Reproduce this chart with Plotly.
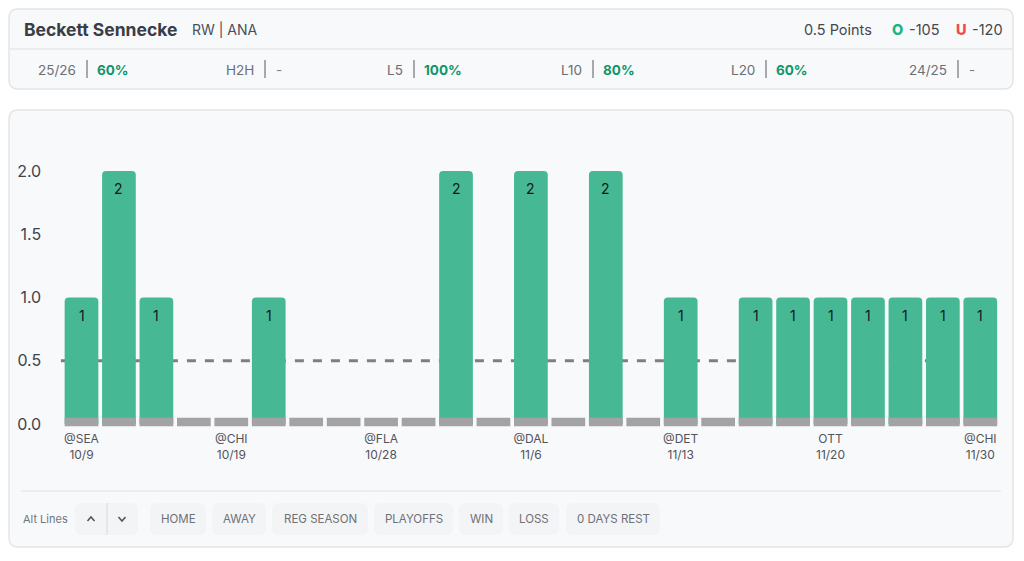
import plotly.graph_objects as go

W, H = 1024, 561

# chart values
points = [1, 2, 1, 0, 0, 1, 0, 0, 0, 0, 2, 0, 2, 0, 2, 0, 1, 0, 1, 1, 1, 1, 1, 1, 1]
game_index = list(range(len(points)))
floor_top = [0.05] * len(points)
prop_line = 0.5
y_ticks = [0, 0.5, 1, 1.5, 2]
y_tick_labels = ["0.0", "0.5", "1.0", "1.5", "2.0"]
x_ticks = [0, 4, 8, 12, 16, 20, 24]
x_tick_labels = [
    "@SEA<br>10/9",
    "@CHI<br>10/19",
    "@FLA<br>10/28",
    "@DAL<br>11/6",
    "@DET<br>11/13",
    "OTT<br>11/20",
    "@CHI<br>11/30",
]

# header stats: label, value
stats = [
    ("25/26", "60%", 78, 87),
    ("H2H", "-", 256, 265),
    ("L5", "100%", 405, 414),
    ("L10", "80%", 584, 593),
    ("L20", "60%", 757, 766),
    ("24/25", "-", 949, 958),
]
filters = [
    ("HOME", 150, 206),
    ("AWAY", 212, 266),
    ("REG SEASON", 272, 368),
    ("PLAYOFFS", 374, 453),
    ("WIN", 459, 503),
    ("LOSS", 509, 559),
    ("0 DAYS REST", 566, 660),
]

GREEN = "#46b994"
GRAY = "#a3a3a3"
FONT = "Inter"


def px(x):
    return x / W


def py(y):
    return 1 - y / H


def round_rect(x0, y0, x1, y1, r, fill, line=None, width=0):
    p = (
        f"M {px(x0 + r)} {py(y0)} L {px(x1 - r)} {py(y0)} "
        f"Q {px(x1)} {py(y0)} {px(x1)} {py(y0 + r)} L {px(x1)} {py(y1 - r)} "
        f"Q {px(x1)} {py(y1)} {px(x1 - r)} {py(y1)} L {px(x0 + r)} {py(y1)} "
        f"Q {px(x0)} {py(y1)} {px(x0)} {py(y1 - r)} L {px(x0)} {py(y0 + r)} "
        f"Q {px(x0)} {py(y0)} {px(x0 + r)} {py(y0)} Z"
    )
    return dict(
        type="path", path=p, xref="paper", yref="paper", layer="below",
        fillcolor=fill, line=dict(color=line or fill, width=width),
    )


def hline(x0, x1, y, color, width=1):
    return dict(
        type="line", xref="paper", yref="paper", layer="below",
        x0=px(x0), x1=px(x1), y0=py(y), y1=py(y),
        line=dict(color=color, width=width),
    )


def vline(x, y0, y1, color, width=1):
    return dict(
        type="line", xref="paper", yref="paper", layer="below",
        x0=px(x), x1=px(x), y0=py(y0), y1=py(y1),
        line=dict(color=color, width=width),
    )


def chevron(cx, cy, up):
    d = -1 if up else 1
    p = (
        f"M {px(cx - 3.5)} {py(cy - 2 * d)} L {px(cx)} {py(cy + 2 * d)} "
        f"L {px(cx + 3.5)} {py(cy - 2 * d)}"
    )
    return dict(
        type="path", path=p, xref="paper", yref="paper", layer="below",
        line=dict(color="#50545c", width=1.5),
    )


def label(x, y, text, size=14, color="#3f434b", anchor="left", weight=400):
    return dict(
        x=px(x), y=py(y), xref="paper", yref="paper", text=text, showarrow=False,
        xanchor=anchor, yanchor="middle", align=anchor,
        font=dict(family=FONT, size=size, color=color, weight=weight),
    )


fig = go.Figure()
fig.add_trace(go.Bar(
    x=game_index, y=points, width=0.9,
    marker=dict(color=GREEN, line=dict(width=0), cornerradius=4),
    hoverinfo="skip",
))
fig.add_trace(go.Bar(
    x=game_index, y=[t + 0.018 for t in floor_top], base=-0.018, width=0.9,
    marker=dict(color=GRAY, line=dict(width=0)),
    hoverinfo="skip",
))

shapes = [
    round_rect(9, 9, 1013, 89, 9, "#f8f9fb", "#e4e5e8", 1.5),
    hline(10, 1012, 49, "#e6e7ea", 1.5),
    round_rect(9, 110, 1013, 547, 9, "#f8f9fb", "#e4e5e8", 1.5),
    hline(21, 1001, 491, "#dfe0e3", 1),
    round_rect(75, 503, 138, 535, 7, "#f3f4f6"),
    vline(107, 503, 535, "#d8d9dc", 1),
    chevron(91, 519, True),
    chevron(122, 519, False),
]
annotations = [
    label(22, 29, "Beckett Sennecke", 17.5, "#3a3d45", weight=700),
    label(190, 30, "RW | ANA", 14, "#4b4f57"),
    label(874, 29, "0.5 Points", 14.5, "#45484f", "right"),
    label(890, 29, "O", 14.5, "#14b87e", weight=800),
    label(907, 29, "-105", 14.5, "#45484f"),
    label(954, 29, "U", 14.5, "#ef4b52", weight=800),
    label(970, 29, "-120", 14.5, "#45484f"),
    label(21, 519, "Alt Lines", 11, "#72757c"),
]

for name, value, right, sep in stats:
    annotations.append(label(right, 70, name, 13.5, "#6b6e75", "right"))
    shapes.append(vline(sep, 60, 78, "#55585f", 1))
    if value == "-":
        annotations.append(label(sep + 9, 70, value, 13.5, "#7d8087"))
    else:
        annotations.append(label(sep + 8, 70, value, 13.5, "#0f9668", weight=700))

for name, x0, x1 in filters:
    shapes.append(round_rect(x0, 503, x1, 535, 7, "#f3f4f6"))
    annotations.append(label((x0 + x1) / 2, 519, name, 11.5, "#6d7077", "center"))

# value labels inside the bars
for i, v in zip(game_index, points):
    if v > 0:
        annotations.append(dict(
            x=i, y=v, xref="x", yref="y", text=str(v), showarrow=False,
            yshift=-18, yanchor="middle",
            font=dict(family=FONT, size=14, color="#15171a"),
        ))

# prop line runs behind the bars
shapes.append(dict(
    type="line", xref="x", yref="y", layer="below",
    x0=-0.55, x1=23.48, y0=prop_line, y1=prop_line,
    line=dict(color="#7f7f7f", width=3, dash="9px,9px"),
))

fig.update_layout(
    width=W,
    height=H,
    margin=dict(l=0, r=0, t=0, b=0),
    autosize=False,
    paper_bgcolor="white",
    plot_bgcolor="rgba(0,0,0,0)",
    barmode="overlay",
    showlegend=False,
    font=dict(family=FONT, color="#3f434b"),
    shapes=shapes,
    annotations=annotations,
)
fig.update_xaxes(
    domain=[53.41 / W, 1008.4 / W],
    range=[-0.75, 24.75],
    tickmode="array",
    tickvals=x_ticks,
    ticktext=x_tick_labels,
    tickangle=0,
    tickfont=dict(family=FONT, size=12, color="#50535a"),
    showgrid=False,
    zeroline=False,
    showline=False,
    ticks="",
    automargin=False,
)
fig.update_yaxes(
    domain=[(H - 430.3) / H, (H - 145.7) / H],
    range=[-0.05, 2.2],
    tickmode="array",
    tickvals=y_ticks,
    ticktext=y_tick_labels,
    tickfont=dict(family=FONT, size=16, color="#3f434b"),
    showgrid=False,
    zeroline=False,
    showline=False,
    ticks="outside",
    ticklen=8,
    tickcolor="rgba(0,0,0,0)",
    automargin=False,
)

fig.write_html(
    "out.html",
    config=dict(displayModeBar=False),
    post_script="document.body.style.margin='0';document.body.style.overflow='hidden';",
)
